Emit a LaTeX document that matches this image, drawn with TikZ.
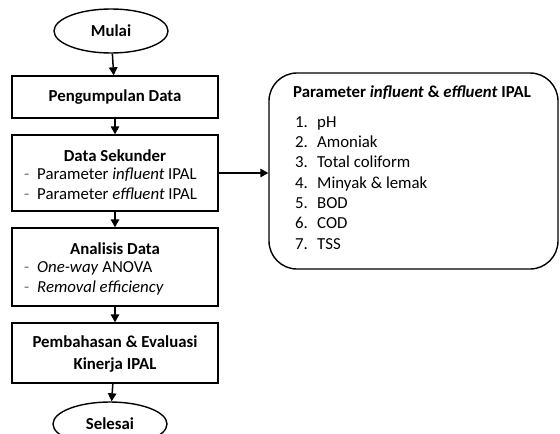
\documentclass[tikz,border=0pt]{standalone}
\usepackage{fontspec}
\setmainfont{Carlito}
\usetikzlibrary{shapes.geometric,arrows.meta}
\begin{document}
\begin{tikzpicture}[x=1pt,y=-1pt,
  every node/.style={font=\fontsize{16.8}{20}\selectfont, inner sep=0pt},
  boxstyle/.style={draw, line width=1.4pt, rectangle, minimum width=206pt},
  ovalstyle/.style={draw, line width=1.4pt, ellipse, minimum width=114pt, minimum height=44pt},
  flow/.style={line width=1.5pt, -{Triangle[length=8pt,width=8.5pt]}},
  txt/.style={anchor=mid west},
  dashmark/.style={anchor=mid west, text=black!55}
]
\clip (0,0) rectangle (560,434);
\useasboundingbox (0,0) rectangle (560,434);

% flow chain on the left
\node[ovalstyle] (mulai) at (111,31) {\bfseries Mulai};
\node[boxstyle, minimum height=42pt] (peng) at (115,97) {\bfseries Pengumpulan Data};
\node[boxstyle, minimum height=76pt] (sek) at (115,173) {};
\node[boxstyle, minimum height=78pt] (anal) at (115,267) {};
\node[boxstyle, minimum height=60pt] (bahas) at (115,353) {};
\node[ovalstyle] (selesai) at (110,424) {\bfseries Selesai};

% box contents
\node[font=\fontsize{16.8}{20}\selectfont\bfseries] (sekT) at (115,156) {Data Sekunder};
\node[dashmark] (sekD1) at (24,177) {-};
\node[txt] (sekL1) at (37,177) {Parameter \textit{influent} IPAL};
\node[dashmark] (sekD2) at (24,197) {-};
\node[txt] (sekL2) at (37,197) {Parameter \textit{effluent} IPAL};

\node[font=\fontsize{16.8}{20}\selectfont\bfseries] (analT) at (115,249) {Analisis Data};
\node[dashmark] (analD1) at (24,270) {-};
\node[txt] (analL1) at (37,270) {\textit{One-way} ANOVA};
\node[dashmark] (analD2) at (24,290) {-};
\node[txt] (analL2) at (37,290) {\textit{Removal efficiency}};

\node[font=\fontsize{16.8}{20}\selectfont\bfseries, align=center] (bahasT) at (115,354) {Pembahasan \& Evaluasi\\[2pt]Kinerja IPAL};

% parameter box on the right
\node[draw, line width=1.4pt, rounded corners=28pt, minimum width=289pt, minimum height=196pt] (param) at (413.5,171) {};
\node[txt, font=\fontsize{16.8}{20}\selectfont\bfseries] (paramT) at (293,95) {Parameter \textit{influent} \& \textit{effluent} IPAL};
\foreach \n/\t [count=\i from 0] in {1/pH,2/Amoniak,3/Total coliform,4/Minyak \& lemak,5/BOD,6/COD,7/TSS}{
  \node[txt] (num\n) at (295,125+20.3*\i) {\n.};
  \node[txt] (item\n) at (317,125+20.3*\i) {\t};
}

% connectors
\draw[flow] (mulai) -- (peng);
\draw[flow] (peng) -- (sek);
\draw[flow] (sek) -- (anal);
\draw[flow] (anal) -- (bahas);
\draw[flow] (bahas) -- (selesai);
\draw[flow] (sek.east) -- (sek.east -| param.west);
\end{tikzpicture}
\end{document}
